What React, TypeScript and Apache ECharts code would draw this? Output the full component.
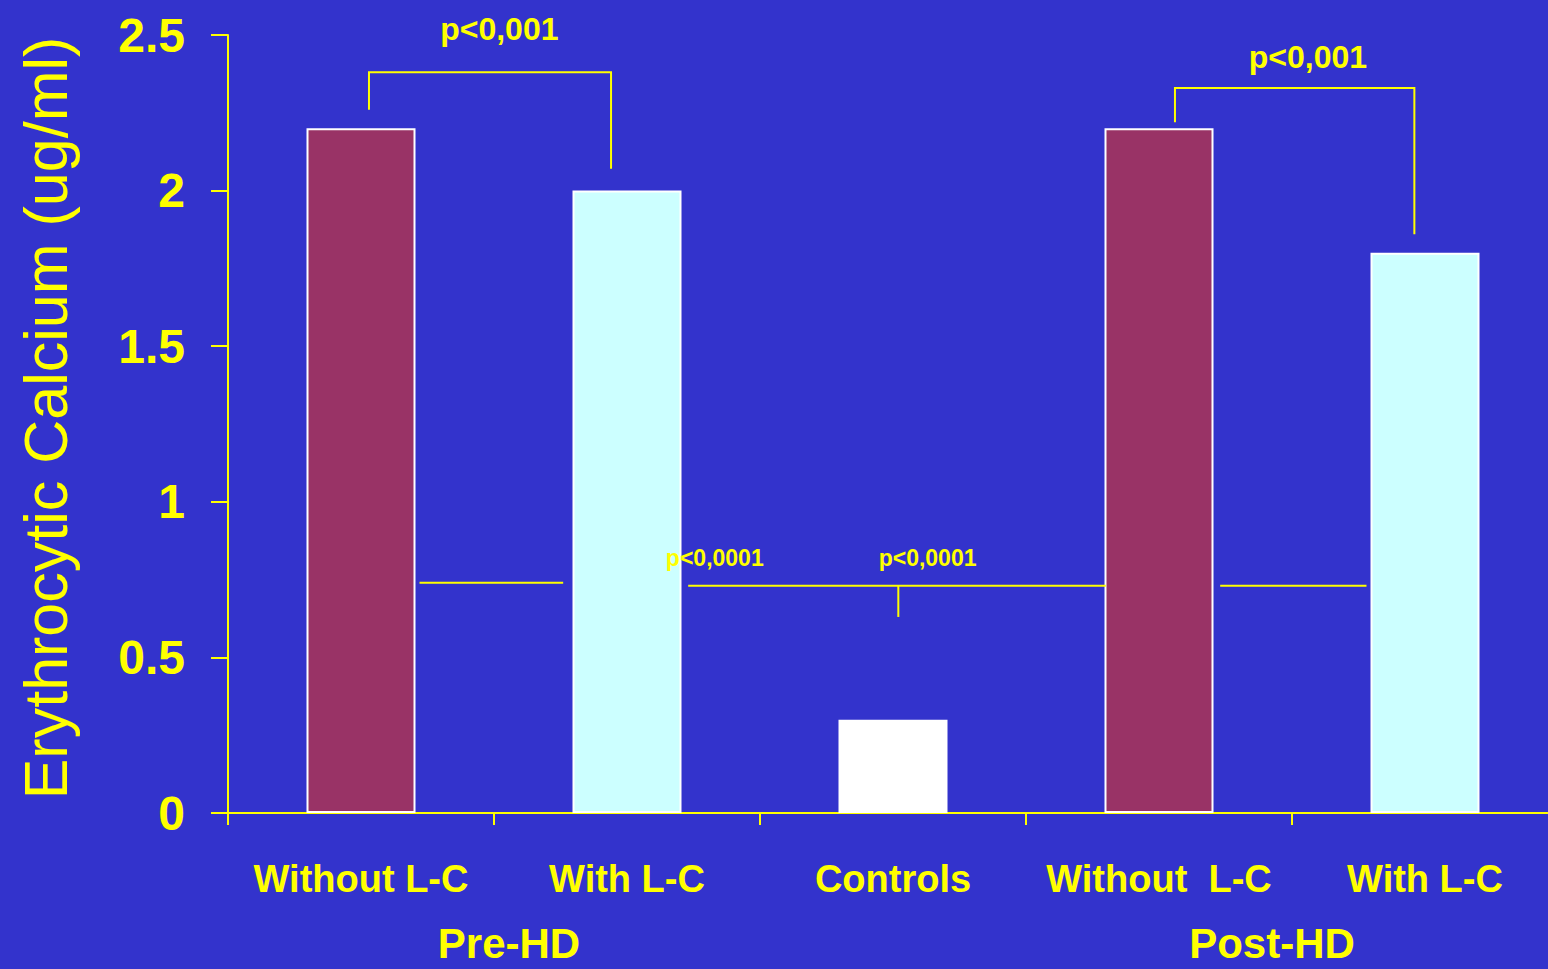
import React, { useEffect, useRef } from "react";
import * as echarts from "echarts";

const categories = ["Without L-C", "With L-C", "Controls", "Without  L-C", "With L-C"];
const values = [2.2, 2.0, 0.3, 2.2, 1.8];
const barColors = ["#993366", "#CCFFFF", "#FFFFFF", "#993366", "#CCFFFF"];
const yTicks = [0, 0.5, 1, 1.5, 2, 2.5];
const groupLabels = ["Pre-HD", "Post-HD"];

// significance brackets in data coordinates: [xLeft, xRight, yLeftEnd, yTop, yRightEnd]
const brackets = [
  [0.03, 0.94, 2.26, 2.38, 2.07],
  [3.06, 3.96, 2.22, 2.33, 1.86],
];
// horizontal comparison lines: [x1, x2, y]
const hLines = [
  [0.22, 0.76, 0.74],
  [1.23, 2.8, 0.73],
  [3.23, 3.78, 0.73],
];
// vertical stubs: [x, yTop, yBottom]
const vStubs = [[2.02, 0.73, 0.63]];
// p-value labels: text, x, y
const pTexts = ["p<0,001", "p<0,001", "p<0,0001", "p<0,0001"];
const pX = [0.52, 3.56, 1.33, 2.13];
const pY = [2.52, 2.43, 0.82, 0.82];

const YELLOW = "#FFFF00";
const FONT = "'Liberation Sans', Arial, sans-serif";

export default function App() {
  const ref = useRef<HTMLDivElement>(null);
  useEffect(() => {
    if (!ref.current) return;
    const chart = echarts.init(ref.current, null, { renderer: "svg" });
    const lineStyle = { stroke: YELLOW, lineWidth: 2, fill: "none" };
    chart.setOption({
      animation: false,
      backgroundColor: "#3333CC",
      grid: { left: 228, top: 35, width: 1330, height: 778, containLabel: false },
      xAxis: [
        {
          type: "category",
          data: categories,
          axisLine: { onZero: false, lineStyle: { color: YELLOW, width: 2 } },
          axisTick: { show: true, length: 12, lineStyle: { color: YELLOW, width: 2 } },
          axisLabel: {
            color: YELLOW,
            fontSize: 38,
            fontWeight: "bold",
            fontFamily: FONT,
            margin: 47,
            interval: 0,
          },
        },
        { type: "value", min: -0.5, max: 4.5, show: false },
      ],
      yAxis: {
        type: "value",
        min: 0,
        max: 2.5,
        interval: 0.5,
        splitLine: { show: false },
        axisLine: { show: true, onZero: false, lineStyle: { color: YELLOW, width: 2 } },
        axisTick: { show: true, length: 17, lineStyle: { color: YELLOW, width: 2 } },
        axisLabel: {
          color: YELLOW,
          fontSize: 48,
          fontWeight: "bold",
          fontFamily: FONT,
          margin: 43,
          formatter: (v: number) => (yTicks.includes(v) ? String(v) : ""),
        },
      },
      graphic: [
        {
          type: "text",
          x: 46,
          y: 418,
          rotation: Math.PI / 2,
          style: {
            text: "Erythrocytic Calcium (ug/ml)",
            fill: YELLOW,
            fontSize: 61,
            fontFamily: FONT,
            align: "center",
            verticalAlign: "middle",
          },
        },
        {
          type: "text",
          x: 509,
          y: 943,
          style: {
            text: groupLabels[0],
            fill: YELLOW,
            fontSize: 42,
            fontWeight: "bold",
            fontFamily: FONT,
            align: "center",
            verticalAlign: "middle",
          },
        },
        {
          type: "text",
          x: 1272,
          y: 943,
          style: {
            text: groupLabels[1],
            fill: YELLOW,
            fontSize: 42,
            fontWeight: "bold",
            fontFamily: FONT,
            align: "center",
            verticalAlign: "middle",
          },
        },
      ],
      series: [
        {
          type: "bar",
          xAxisIndex: 0,
          yAxisIndex: 0,
          barWidth: 109,
          data: values.map((v, i) => ({
            value: v,
            itemStyle: { color: barColors[i], borderColor: "#FFFFFF", borderWidth: 2 },
          })),
        },
        {
          type: "custom",
          xAxisIndex: 1,
          yAxisIndex: 0,
          clip: false,
          silent: true,
          z: 5,
          data: brackets,
          renderItem: (_p: any, api: any) => {
            const pts = [
              api.coord([api.value(0), api.value(2)]),
              api.coord([api.value(0), api.value(3)]),
              api.coord([api.value(1), api.value(3)]),
              api.coord([api.value(1), api.value(4)]),
            ];
            return { type: "polyline", shape: { points: pts }, style: lineStyle };
          },
        },
        {
          type: "custom",
          xAxisIndex: 1,
          yAxisIndex: 0,
          clip: false,
          silent: true,
          z: 5,
          data: hLines,
          renderItem: (_p: any, api: any) => {
            const a = api.coord([api.value(0), api.value(2)]);
            const b = api.coord([api.value(1), api.value(2)]);
            return { type: "line", shape: { x1: a[0], y1: a[1], x2: b[0], y2: b[1] }, style: lineStyle };
          },
        },
        {
          type: "custom",
          xAxisIndex: 1,
          yAxisIndex: 0,
          clip: false,
          silent: true,
          z: 5,
          data: vStubs,
          renderItem: (_p: any, api: any) => {
            const a = api.coord([api.value(0), api.value(1)]);
            const b = api.coord([api.value(0), api.value(2)]);
            return { type: "line", shape: { x1: a[0], y1: a[1], x2: b[0], y2: b[1] }, style: lineStyle };
          },
        },
        {
          type: "custom",
          xAxisIndex: 1,
          yAxisIndex: 0,
          clip: false,
          silent: true,
          z: 6,
          data: pX.map((x, i) => [x, pY[i]]),
          renderItem: (p: any, api: any) => {
            const c = api.coord([api.value(0), api.value(1)]);
            const big = p.dataIndex < 2;
            return {
              type: "text",
              x: c[0],
              y: c[1],
              style: {
                text: pTexts[p.dataIndex],
                fill: YELLOW,
                fontSize: big ? 32 : 23,
                fontWeight: "bold",
                fontFamily: FONT,
                align: "center",
                verticalAlign: "middle",
              },
            };
          },
        },
      ],
    });
    return () => chart.dispose();
  }, []);
  return (
    <div style={{ position: "fixed", left: 0, top: 0, width: 1548, height: 969, overflow: "hidden" }}>
      <div ref={ref} style={{ width: 1560, height: 969 }} />
    </div>
  );
}
